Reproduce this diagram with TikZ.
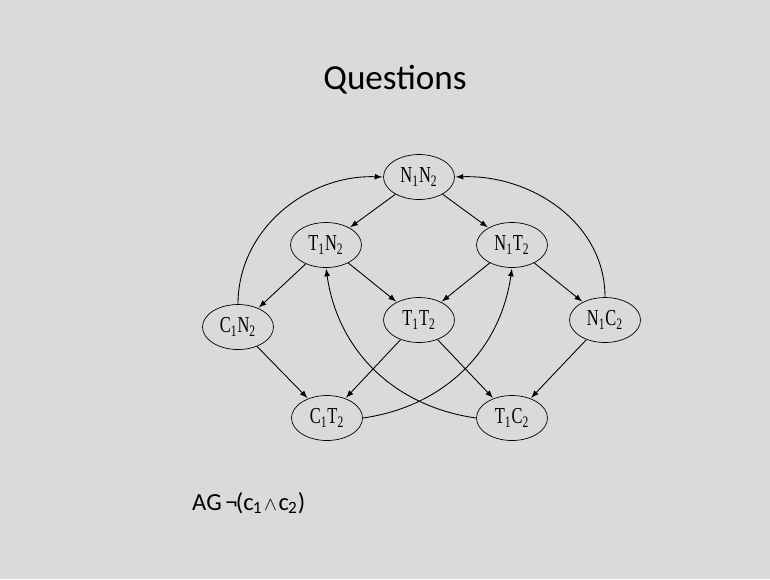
\documentclass[tikz,border=0pt]{standalone}
\usepackage{fontspec}
\usepackage{amsmath}
\usepackage{xcolor}
\setmainfont{Liberation Serif}
\newfontfamily\slidefont{Carlito}
\newfontfamily\statefont[FakeStretch=0.72]{Liberation Serif}
\usetikzlibrary{positioning, arrows, shapes}

\definecolor{slidebg}{RGB}{218,218,218}

\tikzset{
    state/.style={draw, ellipse, fill=slidebg, minimum width=1.42cm, minimum height=0.9cm, inner sep=0pt, font=\statefont\fontsize{13}{14}\selectfont},
    trans/.style={->, >=latex, line width=0.5pt, shorten >=0.5pt}
}

\begin{document}
\begin{tikzpicture}[x=0.02cm, y=0.02cm]
    \fill[slidebg] (0,0) rectangle (770,-579);
    \useasboundingbox (0,0) rectangle (770,-579);

    \node[font=\slidefont\fontsize{20}{24}\selectfont] (title) at (395,-80) {Questions};

    % states of the two processes
    \node[state] (n1n2) at (419,-177) {N\textsubscript{1}N\textsubscript{2}};
    \node[state] (t1n2) at (326,-245) {T\textsubscript{1}N\textsubscript{2}};
    \node[state] (n1t2) at (512,-245) {N\textsubscript{1}T\textsubscript{2}};
    \node[state] (c1n2) at (238,-327) {C\textsubscript{1}N\textsubscript{2}};
    \node[state] (t1t2) at (419,-320) {T\textsubscript{1}T\textsubscript{2}};
    \node[state] (n1c2) at (605,-320) {N\textsubscript{1}C\textsubscript{2}};
    \node[state] (c1t2) at (327,-418) {C\textsubscript{1}T\textsubscript{2}};
    \node[state] (t1c2) at (512,-418) {T\textsubscript{1}C\textsubscript{2}};

    \foreach \a/\b in {n1n2/t1n2, n1n2/n1t2, t1n2/c1n2, t1n2/t1t2, n1t2/t1t2, n1t2/n1c2,
                       c1n2/c1t2, t1t2/c1t2, t1t2/t1c2, n1c2/t1c2} {
        \draw[trans] (\a) -- (\b);
    }

    % leaving the critical section
    \draw[trans] (c1n2.north) to[out=90, in=178] (n1n2.west);
    \draw[trans] (n1c2.north) to[out=90, in=2] (n1n2.east);
    \draw[trans] (c1t2.east) to[out=8, in=-98] (n1t2.south);
    \draw[trans] (t1c2.west) to[out=172, in=-82] (t1n2.south);

    \node[anchor=west, font=\slidefont\fontsize{14}{16}\selectfont] (prop) at (186,-503)
        {AG\hspace{2pt}¬\kern-1pt(c\kern-0.5pt\textsubscript{1}\kern1pt{\fontsize{11}{12}\selectfont$\wedge$}\kern1pt c\kern-0.5pt\textsubscript{2})};
\end{tikzpicture}
\end{document}
